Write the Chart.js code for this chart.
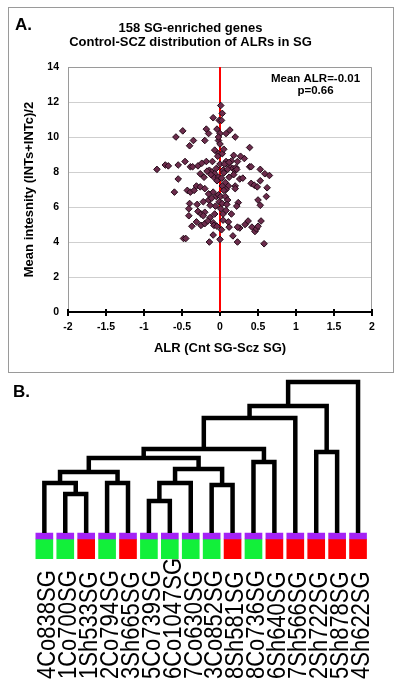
<!DOCTYPE html>
<html>
<head>
<meta charset="utf-8">
<script src="https://cdn.jsdelivr.net/npm/chart.js@4.4.1/dist/chart.umd.min.js"></script>
<style>
  html, body { margin: 0; padding: 0; background: #fff; }
  body { width: 400px; height: 691px; position: relative; overflow: hidden; }
  #panelA { position: absolute; left: 8px; top: 7px; width: 386px; height: 366px; border: 1px solid #9a9a9a; box-sizing: border-box; }
  #panelB { position: absolute; left: 0; top: 375px; width: 400px; height: 316px; }
</style>
</head>
<body>
<div id="panelA"><canvas id="scatterChart"></canvas></div>
<div id="panelB"><canvas id="treeChart"></canvas></div>
<script>
// panel A: ALR (x) vs mean intensity (y) for the 158 genes
const alrValues = [
  0.01, 0.03, -0.09, -0.01, 0.02, -0.49, -0.58, -0.18, -0.15, -0.04,
  0.00, 0.08, 0.13, 0.20, -0.20, -0.35, -0.40, -0.02, 0.00, -0.02,
  0.03, 0.39, 0.18, 0.32, -0.83, -0.72, -0.68, -0.55, -0.46, -0.39,
  -0.36, -0.29, -0.18, -0.10, 0.08, 0.15, 0.23, 0.13, 0.17, 0.20,
  0.21, 0.39, 0.41, 0.53, 0.59, 0.65, -0.55, -0.60, -0.26, -0.21,
  -0.14, -0.11, -0.07, -0.08, -0.02, 0.02, 0.26, 0.30, 0.41, 0.45,
  0.49, 0.53, 0.62, 0.07, 0.11, 0.08, -0.43, -0.39, -0.34, -0.31,
  -0.26, -0.20, -0.15, -0.09, -0.05, -0.02, 0.01, 0.07, 0.10, 0.20,
  0.20, -0.40, -0.41, -0.22, -0.15, -0.11, 0.24, 0.22, 0.50, 0.53,
  0.61, 0.01, 0.08, 0.04, -0.07, -0.41, -0.29, -0.25, -0.20, -0.22,
  -0.13, -0.09, -0.08, -0.04, 0.04, 0.11, -0.37, -0.31, -0.25, -0.20,
  0.26, 0.23, 0.33, 0.37, 0.42, 0.46, 0.48, 0.50, 0.54, -0.48,
  -0.45, -0.14, -0.09, 0.00, 0.17, 0.23, 0.58, -0.05, 0.04, 0.10,
  -0.12, 0.05, -0.04, 0.12, 0.18, 0.22, -0.17, 0.00, -0.03, 0.06,
  0.12, -0.24, 0.03, 0.05, -0.01, 0.03, 0.09, -0.06, -0.13, -0.30,
  0.15, -0.16, 0.02, 0.12, -0.02, 0.05, -0.07, 0.27
];
const meanIntensity = [
  11.8, 11.35, 11.1, 10.95, 10.95, 10.35, 10.0, 10.45, 10.2, 10.45,
  10.2, 10.2, 10.4, 10.0, 9.8, 9.8, 9.5, 9.8, 9.6, 9.05,
  9.05, 9.4, 8.95, 8.77, 8.15, 8.4, 8.35, 8.4, 8.6, 8.3,
  8.3, 8.35, 8.6, 8.6, 8.6, 8.63, 8.6, 8.3, 8.2, 8.1,
  8.25, 8.3, 8.3, 8.15, 7.9, 7.8, 7.6, 6.85, 7.9, 7.7,
  8.1, 8.0, 7.9, 7.7, 7.7, 7.65, 7.6, 7.65, 7.35, 7.25,
  7.15, 7.5, 7.1, 7.4, 7.2, 7.0, 6.95, 6.85, 6.95, 7.2,
  7.15, 7.05, 6.75, 6.85, 6.6, 6.7, 6.6, 6.6, 6.4, 7.2,
  7.05, 6.2, 5.9, 6.3, 6.4, 6.5, 6.25, 6.05, 6.4, 6.1,
  6.6, 5.9, 5.8, 5.6, 5.6, 5.5, 5.75, 5.6, 5.7, 5.5,
  5.4, 5.1, 4.95, 4.9, 5.25, 5.15, 4.9, 5.15, 4.95, 5.05,
  4.8, 4.85, 5.0, 5.2, 4.85, 4.6, 4.75, 4.9, 5.2, 4.2,
  4.2, 4.0, 4.4, 4.15, 4.35, 4.0, 3.9, 8.2, 8.1, 8.15,
  7.85, 7.95, 7.5, 7.7, 7.85, 8.15, 8.05, 8.45, 8.9, 8.45,
  8.55, 8.5, 7.2, 6.95, 6.3, 6.2, 6.15, 6.05, 6.1, 6.15,
  5.6, 5.2, 4.7, 4.85, 10.0, 9.3, 9.25, 8.9
];
const xTickValues = [-2, -1.5, -1, -0.5, 0, 0.5, 1, 1.5, 2];
const yTickValues = [0, 2, 4, 6, 8, 10, 12, 14];
const meanAlr = -0.01;
const pValue = 0.66;

// panel B: hierarchical clustering of the 16 samples
const sampleLabels = ['4Co838SG', '1Co700SG', '1Sh533SG', '2Co794SG', '3Sh665SG', '5Co739SG',
  '6Co1047SG', '7Co630SG', '3Co852SG', '8Sh581SG', '8Co736SG', '6Sh640SG', '7Sh566SG',
  '2Sh722SG', '5Sh878SG', '4Sh622SG'];
const sampleGroups = ['Control', 'Control', 'SCZ', 'Control', 'SCZ', 'Control', 'Control', 'Control',
  'Control', 'SCZ', 'Control', 'SCZ', 'SCZ', 'SCZ', 'SCZ', 'SCZ'];
// merge k creates node 16+k from nodes mergeLeft[k] and mergeRight[k]
const mergeLeft = [1, 0, 3, 17, 5, 20, 8, 21, 19, 10, 24, 26, 13, 27, 29];
const mergeRight = [2, 16, 4, 18, 6, 7, 9, 22, 23, 11, 25, 12, 14, 28, 15];
const mergeHeight = [1.56, 2.0, 2.0, 2.44, 1.28, 2.0, 1.92, 2.56, 3.0, 2.84, 3.36, 4.6, 3.24, 5.08, 6.04];

const FONT = '"Liberation Sans", Arial, Helvetica, sans-serif';
Chart.defaults.color = '#000';
Chart.defaults.font.family = FONT;
Chart.defaults.animation = false;
Chart.defaults.events = [];

// gray frame on top/right of the plot + tick marks crossing the x axis
const plotFrame = {
  id: 'plotFrame',
  beforeDatasetsDraw(chart) {
    const { ctx, chartArea: a, scales } = chart;
    ctx.save();
    ctx.strokeStyle = '#9a9a9a';
    ctx.lineWidth = 1;
    ctx.beginPath();
    ctx.moveTo(a.left, a.top + 0.5);
    ctx.lineTo(a.right - 0.5, a.top + 0.5);
    ctx.lineTo(a.right - 0.5, a.bottom);
    ctx.stroke();
    ctx.strokeStyle = '#000';
    ctx.lineWidth = 2;
    xTickValues.forEach(v => {
      const px = Math.round(scales.x.getPixelForValue(v));
      ctx.beginPath();
      ctx.moveTo(px, a.bottom - 3);
      ctx.lineTo(px, a.bottom + 4);
      ctx.stroke();
    });
    ctx.restore();
  },
  afterDraw(chart) {
    const { ctx, chartArea: a } = chart;
    ctx.save();
    ctx.fillStyle = '#000';
    ctx.textBaseline = 'middle';
    ctx.font = 'bold 17px ' + FONT;
    ctx.textAlign = 'left';
    ctx.fillText('A.', 6, 17);
    ctx.font = 'bold 11.5px ' + FONT;
    ctx.textAlign = 'center';
    ctx.fillText('Mean ALR=' + meanAlr.toFixed(2), a.right - 56.5, a.top + 12);
    ctx.fillText('p=' + pValue.toFixed(2), a.right - 56.5, a.top + 24);
    ctx.restore();
  }
};

new Chart(document.getElementById('scatterChart'), {
  type: 'scatter',
  data: {
    datasets: [
      {
        data: alrValues.map((x, i) => ({ x, y: meanIntensity[i] })),
        pointStyle: 'rectRot',
        pointRadius: 3.3,
        backgroundColor: '#6c2c4c',
        borderColor: '#240a18',
        borderWidth: 1
      },
      {
        data: [{ x: 0, y: yTickValues[0] }, { x: 0, y: yTickValues[yTickValues.length - 1] }],
        showLine: true,
        borderColor: '#ff0000',
        borderWidth: 2,
        pointRadius: 0
      }
    ]
  },
  options: {
    responsive: true,
    maintainAspectRatio: false,
    layout: { padding: { left: 0, right: 21, top: 0, bottom: 0 } },
    plugins: {
      legend: { display: false },
      tooltip: { enabled: false },
      title: {
        display: true,
        text: ['158 SG-enriched genes', 'Control-SCZ distribution of ALRs in SG'],
        font: { size: 13, weight: 'bold', lineHeight: 1.1 },
        color: '#000',
        padding: { top: 12.85, bottom: 17.55 }
      }
    },
    scales: {
      x: {
        min: -2, max: 2,
        afterBuildTicks: s => { s.ticks = xTickValues.map(v => ({ value: v })); },
        afterFit: s => { s.height = 60; },
        ticks: { font: { size: 10.5, weight: 'bold' }, padding: 9, callback: v => String(v), maxRotation: 0 },
        grid: { drawOnChartArea: false, drawTicks: false },
        border: { color: '#000', width: 2 },
        title: { display: true, text: 'ALR (Cnt SG-Scz SG)', font: { size: 13, weight: 'bold' }, padding: { top: 0, bottom: 16 } }
      },
      y: {
        min: 0, max: 14,
        afterBuildTicks: s => { s.ticks = yTickValues.map(v => ({ value: v })); },
        afterFit: s => { s.width = 59; },
        ticks: { font: { size: 10.5, weight: 'bold' }, padding: 9, callback: v => String(v) },
        grid: { color: '#cfcfcf', lineWidth: 1, drawTicks: false },
        border: { color: '#9a9a9a', width: 1 },
        title: { display: true, text: 'Mean intesnity (INTs+INTc)/2', font: { size: 13, weight: 'bold' }, padding: { top: 13, bottom: 0 } }
      }
    }
  },
  plugins: [plotFrame]
});

// dendrogram: one U-shaped link per merge
const nodeX = sampleLabels.map((_, i) => i);
const nodeH = sampleLabels.map(() => 0);
const linkSets = mergeLeft.map((l, k) => {
  const r = mergeRight[k];
  const h = mergeHeight[k];
  nodeX.push((nodeX[l] + nodeX[r]) / 2);
  nodeH.push(h);
  return {
    type: 'scatter',
    showLine: true,
    data: [{ x: nodeX[l], y: nodeH[l] }, { x: nodeX[l], y: h }, { x: nodeX[r], y: h }, { x: nodeX[r], y: nodeH[r] }],
    borderColor: '#000',
    borderWidth: 4.5,
    borderJoinStyle: 'miter',
    borderCapStyle: 'butt',
    pointRadius: 0
  };
});

const groupColors = { Control: '#12f03a', SCZ: '#ff0000' };
const bandTop = -0.24;   // purple cap of each leaf box
const boxBottom = -1.04;

const leafLabels = {
  id: 'leafLabels',
  afterDraw(chart) {
    const { ctx, chartArea: a, scales } = chart;
    ctx.save();
    ctx.fillStyle = '#000';
    ctx.font = '22px ' + FONT;
    ctx.textAlign = 'left';
    ctx.textBaseline = 'alphabetic';
    sampleLabels.forEach((s, i) => {
      ctx.save();
      ctx.translate(scales.x.getPixelForValue(i) + 10.8, a.bottom + 120);
      ctx.rotate(-Math.PI / 2);
      ctx.scale(1, 1.13); // glyphs are a bit wider across in the original
      ctx.fillText(s, 0, 0);
      ctx.restore();
    });
    ctx.font = 'bold 17px ' + FONT;
    ctx.textBaseline = 'middle';
    ctx.fillText('B.', 13, 17);
    ctx.restore();
  }
};

new Chart(document.getElementById('treeChart'), {
  type: 'scatter',
  data: {
    datasets: [
      ...linkSets,
      {
        type: 'bar',
        data: sampleLabels.map((_, i) => ({ x: i, y: [bandTop, 0] })),
        backgroundColor: '#a422f5',
        barThickness: 17,
        grouped: false,
        borderWidth: 0
      },
      {
        type: 'bar',
        data: sampleLabels.map((_, i) => ({ x: i, y: [boxBottom, bandTop] })),
        backgroundColor: sampleGroups.map(g => groupColors[g]),
        barThickness: 17,
        grouped: false,
        borderWidth: 0
      }
    ]
  },
  options: {
    responsive: true,
    maintainAspectRatio: false,
    layout: { padding: { left: 10, right: 7.6, top: 3, bottom: 132 } },
    plugins: { legend: { display: false }, tooltip: { enabled: false } },
    scales: {
      x: { type: 'linear', min: -0.5, max: 15.5, display: false },
      y: { type: 'linear', min: boxBottom, max: 6.2, display: false }
    }
  },
  plugins: [leafLabels]
});
</script>
</body>
</html>
